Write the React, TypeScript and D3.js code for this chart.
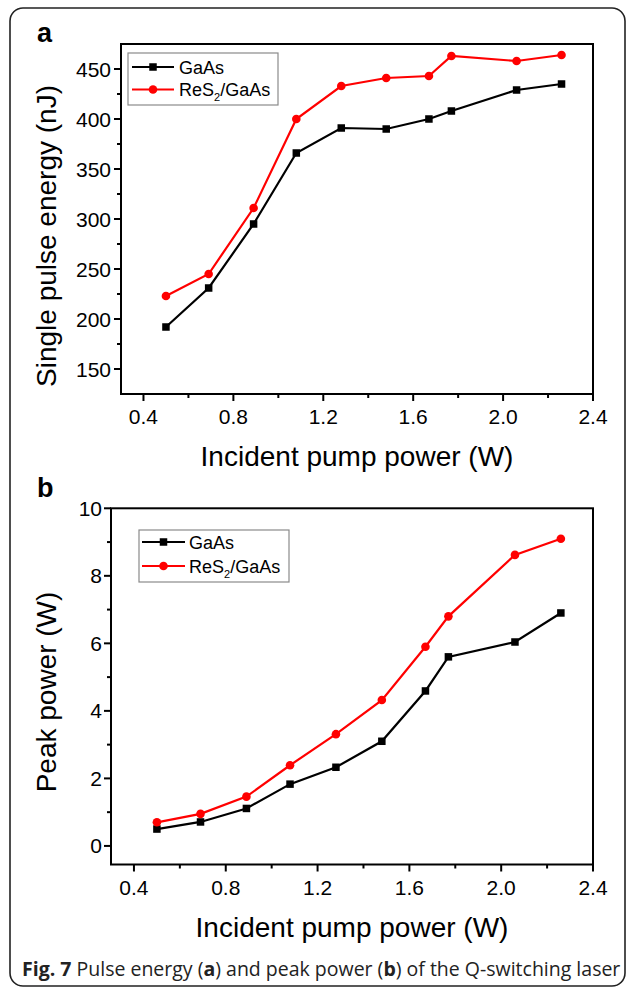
import React from "react";
import * as d3 from "d3";

const pumpPower = [0.5, 0.69, 0.89, 1.08, 1.28, 1.48, 1.67, 1.77, 2.06, 2.26];
const energyGaAs = [192, 231, 295, 366, 391, 390, 400, 408, 429, 435];
const energyReS2 = [223, 245, 311, 400, 433, 441, 443, 463, 458, 464];
const peakGaAs = [0.5, 0.71, 1.11, 1.83, 2.33, 3.1, 4.59, 5.6, 6.04, 6.9];
const peakReS2 = [0.7, 0.95, 1.46, 2.39, 3.31, 4.32, 5.9, 6.8, 8.62, 9.1];
const xTicks = [0.4, 0.8, 1.2, 1.6, 2.0, 2.4];
const xMinor = [0.6, 1.0, 1.4, 1.8, 2.2];
const energyTicks = [150, 200, 250, 300, 350, 400, 450];
const energyMinor = [175, 225, 275, 325, 375, 425];
const peakTicks = [0, 2, 4, 6, 8, 10];
const peakMinor = [1, 3, 5, 7, 9];
const seriesNames = ["GaAs", "ReS2/GaAs"];

const FONT = "Arial, 'Liberation Sans', Helvetica, sans-serif";

type PanelProps = {
  left: number; right: number; top: number; bottom: number;
  yDomain: [number, number];
  yTicks: number[]; yMinor: number[];
  s1: number[]; s2: number[];
  yTitle: string; yTitleCenter: number; letter: string; letterY: number;
  legend: { x: number; y: number; w: number; h: number; lx1: number; lx2: number; tx: number; r1: number; r2: number };
  yLabelGap: number;
  yFmt: (v: number) => string;
};

function Panel(p: PanelProps) {
  const x = d3.scaleLinear().domain([0.3, 2.4]).range([p.left, p.right]);
  const y = d3.scaleLinear().domain(p.yDomain).range([p.bottom, p.top]);
  const line = d3.line<number>().x((_, i) => x(pumpPower[i])).y((d) => y(d));
  const sq = 7.5;
  const cr = 4.3;
  const lg = p.legend;
  return (
    <g>
      <text x={37} y={p.letterY} fontFamily={FONT} fontWeight="bold" fontSize={27}>{p.letter}</text>
      <path d={line(p.s1) || ""} fill="none" stroke="#000" strokeWidth={2.2} />
      <path d={line(p.s2) || ""} fill="none" stroke="#ff0000" strokeWidth={2.2} />
      {p.s1.map((v, i) => (
        <rect key={"a" + i} x={x(pumpPower[i]) - sq / 2} y={y(v) - sq / 2} width={sq} height={sq} fill="#000" />
      ))}
      {p.s2.map((v, i) => (
        <circle key={"b" + i} cx={x(pumpPower[i])} cy={y(v)} r={cr} fill="#ff0000" />
      ))}
      <rect x={p.left} y={p.top} width={p.right - p.left} height={p.bottom - p.top} fill="none" stroke="#000" strokeWidth={2} />
      {xTicks.map((t) => (
        <g key={"xt" + t}>
          <line x1={x(t)} x2={x(t)} y1={p.bottom} y2={p.bottom + 7} stroke="#000" strokeWidth={2} />
          <text x={x(t)} y={p.bottom + 30} textAnchor="middle" fontFamily={FONT} fontSize={21}>{t.toFixed(1)}</text>
        </g>
      ))}
      {xMinor.map((t) => (
        <line key={"xm" + t} x1={x(t)} x2={x(t)} y1={p.bottom} y2={p.bottom + 4} stroke="#000" strokeWidth={2} />
      ))}
      {p.yTicks.map((t) => (
        <g key={"yt" + t}>
          <line x1={p.left - 7} x2={p.left} y1={y(t)} y2={y(t)} stroke="#000" strokeWidth={2} />
          <text x={p.left - p.yLabelGap} y={y(t) + 7.5} textAnchor="end" fontFamily={FONT} fontSize={21}>{p.yFmt(t)}</text>
        </g>
      ))}
      {p.yMinor.map((t) => (
        <line key={"ym" + t} x1={p.left - 4} x2={p.left} y1={y(t)} y2={y(t)} stroke="#000" strokeWidth={2} />
      ))}
      <text x={(p.left + p.right) / 2} y={p.bottom + 72} textAnchor="middle" fontFamily={FONT} fontSize={28}>Incident pump power (W)</text>
      <text transform={`translate(56,${p.yTitleCenter}) rotate(-90)`} textAnchor="middle" fontFamily={FONT} fontSize={28}>{p.yTitle}</text>
      <rect x={lg.x} y={lg.y} width={lg.w} height={lg.h} fill="#fff" stroke="#8a8a8a" strokeWidth={1.2} />
      <line x1={lg.lx1} x2={lg.lx2} y1={lg.r1} y2={lg.r1} stroke="#000" strokeWidth={2.2} />
      <rect x={(lg.lx1 + lg.lx2) / 2 - sq / 2} y={lg.r1 - sq / 2} width={sq} height={sq} fill="#000" />
      <text x={lg.tx} y={lg.r1 + 6.5} fontFamily={FONT} fontSize={18}>{seriesNames[0]}</text>
      <line x1={lg.lx1} x2={lg.lx2} y1={lg.r2} y2={lg.r2} stroke="#ff0000" strokeWidth={2.2} />
      <circle cx={(lg.lx1 + lg.lx2) / 2} cy={lg.r2} r={cr} fill="#ff0000" />
      <text x={lg.tx} y={lg.r2 + 6.5} fontFamily={FONT} fontSize={18}>
        ReS<tspan fontSize={11} dy={5}>2</tspan><tspan dy={-5}>/GaAs</tspan>
      </text>
    </g>
  );
}

export default function App() {
  return (
    <svg width={627} height={987} style={{ position: "absolute", left: 0, top: 0, background: "#fff" }}>
      <rect x={0} y={0} width={627} height={987} fill="#fff" />
      <rect x={10} y={8} width={615} height={978} rx={13} ry={13} fill="none" stroke="#222" strokeWidth={1.6} />
      <Panel
        left={121} right={593} top={44} bottom={394}
        yDomain={[125, 475]} yTicks={energyTicks} yMinor={energyMinor}
        s1={energyGaAs} s2={energyReS2}
        yTitle="Single pulse energy (nJ)" yTitleCenter={236} letter="a" letterY={42}
        legend={{ x: 128, y: 53, w: 150, h: 52, lx1: 132, lx2: 174, tx: 179, r1: 67, r2: 89.5 }}
        yLabelGap={10}
        yFmt={(v) => String(v)}
      />
      <Panel
        left={111} right={593} top={508.3} bottom={864.5}
        yDomain={[-0.55, 10]} yTicks={peakTicks} yMinor={peakMinor}
        s1={peakGaAs} s2={peakReS2}
        yTitle="Peak power (W)" yTitleCenter={692} letter="b" letterY={497}
        legend={{ x: 139, y: 530, w: 150, h: 52, lx1: 142, lx2: 185, tx: 189, r1: 542, r2: 566 }}
        yLabelGap={9}
        yFmt={(v) => String(v)}
      />
      <text x={22} y={976} fontFamily="'Open Sans', 'Noto Sans', sans-serif" fontSize={19.5} fill="#222">
        <tspan fontWeight="bold">Fig. 7</tspan> Pulse energy (<tspan fontWeight="bold">a</tspan>) and peak power (<tspan fontWeight="bold">b</tspan>) of the Q-switching laser
      </text>
    </svg>
  );
}
